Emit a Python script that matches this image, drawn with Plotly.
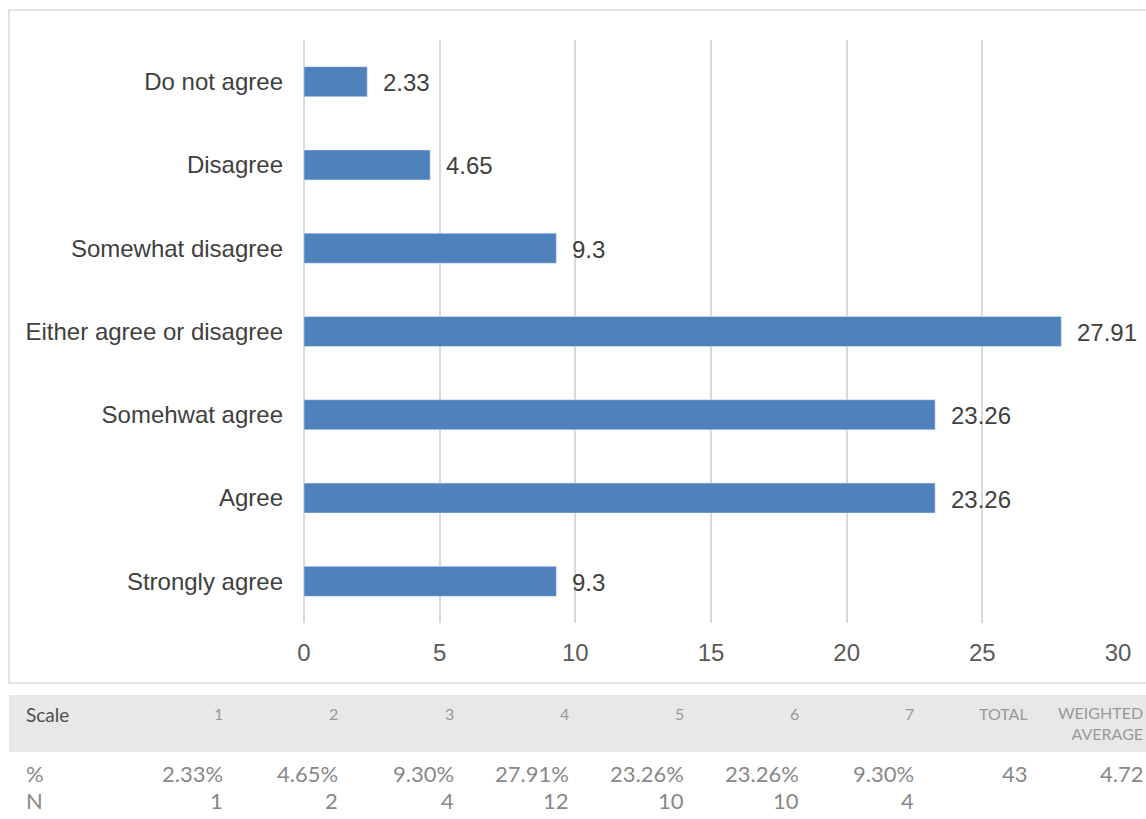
import plotly.graph_objects as go

categories = ["Do not agree", "Disagree", "Somewhat disagree", "Either agree or disagree",
              "Somehwat agree", "Agree", "Strongly agree"]
values = [2.33, 4.65, 9.3, 27.91, 23.26, 23.26, 9.3]
x_ticks = [0, 5, 10, 15, 20, 25, 30]

table_header = ["1", "2", "3", "4", "5", "6", "7", "TOTAL", "WEIGHTED<br>AVERAGE"]
table_pct = ["2.33%", "4.65%", "9.30%", "27.91%", "23.26%", "23.26%", "9.30%", "43", "4.72"]
table_n = ["1", "2", "4", "12", "10", "10", "4", "", ""]

W, H = 1146, 819
L, R, T, B = 304, 1118, 40, 623

def px(x):
    return (x - L) / (R - L)

def py(y):
    return (B - y) / (B - T)

cfont = "Liberation Sans, Arial, sans-serif"

fig = go.Figure(go.Bar(
    y=categories, x=values, orientation="h",
    marker=dict(color="#4F81BD"),
    width=0.36,
    cliponaxis=False,
))

fig.update_layout(
    width=W, height=H,
    margin=dict(l=L, r=W - R, t=T, b=H - B),
    plot_bgcolor="white", paper_bgcolor="white",
    showlegend=False,
    font=dict(family=cfont, color="#595959"),
    xaxis=dict(range=[0, 30], tickvals=x_ticks, showgrid=True, gridcolor="#D9D9D9",
               gridwidth=1.5, zeroline=True, zerolinecolor="#D9D9D9", zerolinewidth=1.5,
               showline=False, ticks="", tickfont=dict(family=cfont, size=24, color="#595959"),
               ticklabelstandoff=13),
    yaxis=dict(categoryorder="array", categoryarray=categories[::-1], showgrid=False,
               ticks="", showline=False, tickfont=dict(family=cfont, size=24, color="#404040"),
               ticklabelstandoff=20),
)

shapes = [
    dict(type="rect", xref="paper", yref="paper", x0=px(9), x1=px(1160), y0=py(683), y1=py(10),
         line=dict(color="#D9D9D9", width=1.5), fillcolor="rgba(0,0,0,0)", layer="below"),
    dict(type="rect", xref="paper", yref="paper", x0=px(9), x1=px(1160), y0=py(752), y1=py(695),
         line=dict(width=0), fillcolor="#E8E8E8", layer="below"),
]
fig.update_layout(shapes=shapes)

annotations = []
# data labels
for c, v in zip(categories, values):
    annotations.append(dict(text=f"{v:g}", x=v, y=c, xref="x", yref="y", xanchor="left",
                            yanchor="middle", xshift=14, yshift=-1, showarrow=False,
                            font=dict(family=cfont, size=24, color="#404040")))

tfont = "Lato, Open Sans, sans-serif"
annotations.append(dict(text="Scale", xref="paper", yref="paper", x=px(24), y=py(714),
                        xanchor="left", yanchor="middle", showarrow=False,
                        font=dict(family=tfont, size=19, color="#505050")))
annotations.append(dict(text="%", xref="paper", yref="paper", x=px(24), y=py(773),
                        xanchor="left", yanchor="middle", showarrow=False,
                        font=dict(family=tfont, size=22, color="#888888")))
annotations.append(dict(text="N", xref="paper", yref="paper", x=px(24), y=py(800),
                        xanchor="left", yanchor="middle", showarrow=False,
                        font=dict(family=tfont, size=22, color="#888888")))
col_right = [225, 340, 456, 571, 686, 801, 916, 1030, 1145]
for i, xr in enumerate(col_right):
    hdr = table_header[i]
    if "<br>" in hdr:
        annotations.append(dict(text=hdr, xref="paper", yref="paper", x=px(xr), y=py(723),
                                xanchor="right", yanchor="middle", align="right", showarrow=False,
                                font=dict(family=tfont, size=16, color="#999999")))
    else:
        annotations.append(dict(text=hdr, xref="paper", yref="paper", x=px(xr), y=py(713),
                                xanchor="right", yanchor="middle", showarrow=False,
                                font=dict(family=tfont, size=16, color="#999999")))
    annotations.append(dict(text=table_pct[i], xref="paper", yref="paper", x=px(xr), y=py(773),
                            xanchor="right", yanchor="middle", showarrow=False,
                            font=dict(family=tfont, size=22, color="#888888")))
    if table_n[i]:
        annotations.append(dict(text=table_n[i], xref="paper", yref="paper", x=px(xr), y=py(800),
                                xanchor="right", yanchor="middle", showarrow=False,
                                font=dict(family=tfont, size=22, color="#888888")))
fig.update_layout(annotations=annotations)

fig.write_html("out.html")
